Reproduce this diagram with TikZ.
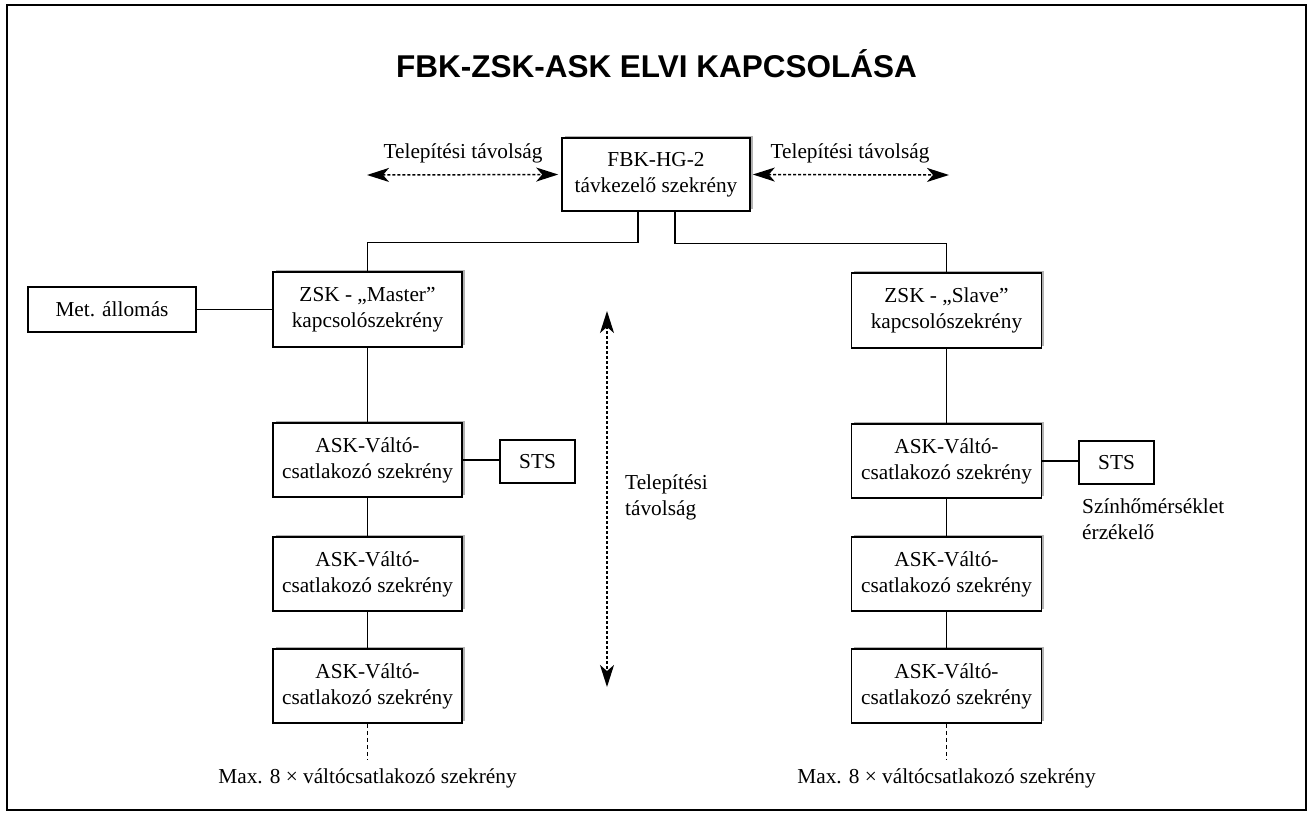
\documentclass[tikz,border=0pt]{standalone}
\usepackage{fontspec}
\setmainfont{Liberation Serif}
\newfontfamily\titlefont{Liberation Sans}
\usetikzlibrary{arrows.meta,shadows}
\begin{document}
\begin{tikzpicture}[x=1pt,y=-1pt,
  every node/.style={font=\fontsize{21.3}{26}\selectfont, inner sep=0pt},
  plainbox/.style={draw, line width=1.6pt, align=center, fill=white},
  shbox/.style={plainbox, drop shadow={shadow xshift=2.5pt, shadow yshift=2.5pt, fill=gray!60, opacity=1}},
  conn/.style={line width=1.3pt},
  dashconn/.style={line width=1.3pt, dash pattern=on 4pt off 3pt},
  darrow/.style={line width=1.5pt, dash pattern=on 3pt off 2pt, {Stealth[length=22pt,width=14pt,inset=6pt]}-{Stealth[length=22pt,width=14pt,inset=6pt]}}
]
\useasboundingbox (0,0) rectangle (1313,814);
\fill[white] (0,0) rectangle (1313,814);
\draw[line width=2pt] (7,5) rectangle (1306,810);

% title
\node[anchor=base] (title) at (656.5,77) {\titlefont\bfseries\fontsize{31.5}{36}\selectfont FBK-ZSK-ASK ELVI KAPCSOLÁSA};

% boxes
\node[shbox, minimum width=188pt, minimum height=73pt] (fbk) at (656,174.5) {FBK-HG-2\\távkezelő szekrény};
\node[shbox, minimum width=189pt, minimum height=75pt] (master) at (367.5,309.5) {ZSK - „Master”\\kapcsolószekrény};
\node[shbox, minimum width=190pt, minimum height=75pt] (slave) at (946.5,310.5) {ZSK - „Slave”\\kapcsolószekrény};
\node[plainbox, minimum width=168pt, minimum height=45pt] (met) at (112,309.5) {Met. állomás};

\node[shbox, minimum width=189pt, minimum height=74pt] (askL1) at (367.5,460) {ASK-Váltó-\\csatlakozó szekrény};
\node[shbox, minimum width=189pt, minimum height=74pt] (askL2) at (367.5,574) {ASK-Váltó-\\csatlakozó szekrény};
\node[shbox, minimum width=189pt, minimum height=74pt] (askL3) at (367.5,686) {ASK-Váltó-\\csatlakozó szekrény};
\node[shbox, minimum width=190pt, minimum height=74pt] (askR1) at (946.5,461) {ASK-Váltó-\\csatlakozó szekrény};
\node[shbox, minimum width=190pt, minimum height=74pt] (askR2) at (946.5,574) {ASK-Váltó-\\csatlakozó szekrény};
\node[shbox, minimum width=190pt, minimum height=74pt] (askR3) at (946.5,686) {ASK-Váltó-\\csatlakozó szekrény};

\node[plainbox, minimum width=75pt, minimum height=43pt] (stsL) at (537.5,461.5) {STS};
\node[plainbox, minimum width=75pt, minimum height=43pt] (stsR) at (1116.5,462.5) {STS};

% labels
\node (tl) at (463,153) {Telepítési távolság};
\node (tr) at (850,153) {Telepítési távolság};
\node[anchor=west, align=left] (tv) at (625,497) {Telepítési\\távolság};
\node[anchor=west, align=left] (sens) at (1082,519.5) {Színhőmérséklet\\érzékelő};
\node (maxL) at (367.5,778) {Max. 8 × váltócsatlakozó szekrény};
\node (maxR) at (946.5,778) {Max. 8 × váltócsatlakozó szekrény};

% connectors
\draw[conn] ([xshift=-18pt]fbk.south) -- ++(0,31) -| (master.north);
\draw[conn] ([xshift=19pt]fbk.south) -- ++(0,32) -| (slave.north);
\draw[conn] (met.east) -- (master.west);
\draw[conn] (master.south) -- (askL1.north);
\draw[conn] (askL1.south) -- (askL2.north);
\draw[conn] (askL2.south) -- (askL3.north);
\draw[conn] (slave.south) -- (askR1.north);
\draw[conn] (askR1.south) -- (askR2.north);
\draw[conn] (askR2.south) -- (askR3.north);
\draw[conn] (askL1.east) -- (askL1.east -| stsL.west);
\draw[conn] (askR1.east) -- (askR1.east -| stsR.west);

\coordinate (endL) at (367.5,760);
\coordinate (endR) at (946.5,760);
\draw[dashconn] (askL3.south) -- (endL);
\draw[dashconn] (askR3.south) -- (endR);

% distance arrows
\coordinate (la) at (367,175);
\coordinate (ra) at (949,175);
\draw[darrow] (la) -- ([xshift=-3pt]fbk.west);
\draw[darrow] ([xshift=2pt]fbk.east) -- (ra);
\coordinate (vt) at (607,311);
\coordinate (vb) at (607,687);
\draw[darrow] (vt) -- (vb);
\end{tikzpicture}
\end{document}
